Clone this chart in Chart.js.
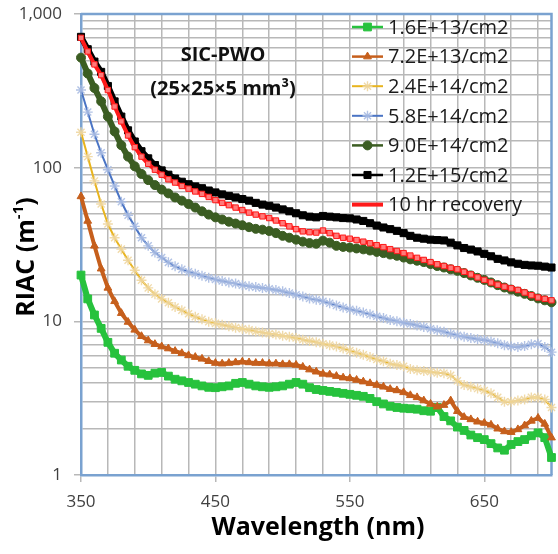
<!DOCTYPE html>
<html><head><meta charset="utf-8">
<script src="https://cdn.jsdelivr.net/npm/chart.js@4.4.1/dist/chart.umd.min.js"></script>
<style>html,body{margin:0;padding:0;background:#fff;}#wrap{width:558px;height:554px;}</style>
</head><body><div id="wrap"><canvas id="c" width="558" height="554"></canvas></div>
<script>
const wavelengths = [350,355,360,365,370,375,380,385,390,395,400,405,410,415,420,425,430,435,440,445,450,455,460,465,470,475,480,485,490,495,500,505,510,515,520,525,530,535,540,545,550,555,560,565,570,575,580,585,590,595,600,605,610,615,620,625,630,635,640,645,650,655,660,665,670,675,680,685,690,695,700];
const xTickValues = [350,370,390,410,430,450,470,490,510,530,550,570,590,610,630,650,670,690];
const xTickLabels = [350,450,550,650];
const seriesNames = ["1.6E+13/cm2","7.2E+13/cm2","2.4E+14/cm2","5.8E+14/cm2","9.0E+14/cm2","1.2E+15/cm2","10 hr recovery"];
const f16e13 = [20,14,11,9,7.3,6.2,5.6,5.1,4.8,4.55,
4.45,4.6,4.65,4.4,4.2,4.1,4.0,3.9,3.8,3.72,
3.7,3.75,3.8,3.95,4.0,3.9,3.8,3.75,3.72,3.75,
3.8,3.9,4.0,3.9,3.7,3.6,3.55,3.5,3.45,3.4,
3.35,3.3,3.25,3.15,3.0,2.9,2.8,2.75,2.72,2.7,
2.68,2.62,2.6,2.75,2.4,2.25,2.05,1.95,1.82,1.75,
1.7,1.6,1.5,1.45,1.58,1.65,1.7,1.8,1.88,1.75,
1.3];
const f72e13 = [65,45,31,22,16.5,13.5,11.3,9.9,8.8,8.0,
7.5,7.1,6.85,6.65,6.4,6.2,6.0,5.85,5.7,5.5,
5.35,5.3,5.35,5.4,5.45,5.4,5.35,5.35,5.3,5.3,
5.25,5.25,5.2,5.05,4.85,4.7,4.55,4.5,4.4,4.3,
4.25,4.15,4.05,3.95,3.85,3.75,3.62,3.55,3.45,3.3,
3.2,3.05,2.9,2.78,2.85,3.05,2.6,2.38,2.3,2.22,
2.18,2.12,2.0,1.92,1.9,1.98,2.1,2.25,2.35,2.15,
1.75];
const f24e14 = [170,118,82,58,43,35,29.5,25,21.5,18.5,
16.5,15,14,13.2,12.4,11.8,11.2,10.7,10.3,9.95,
9.7,9.5,9.3,9.1,8.95,8.8,8.6,8.45,8.3,8.2,
8.05,7.95,7.8,7.6,7.45,7.3,7.15,7.0,6.85,6.65,
6.45,6.25,6.05,5.85,5.65,5.5,5.3,5.2,5.1,4.9,
4.8,4.75,4.7,4.62,4.6,4.45,4.1,3.85,3.75,3.65,
3.55,3.4,3.2,3.0,3.0,3.05,3.1,3.2,3.2,3.1,
2.75];
const f58e14 = [320,230,165,125,97,76,60,49,41.5,35,
31,28,26,24.2,22.8,21.8,21,20.4,19.8,19.2,
18.7,18.3,17.9,17.6,17.2,16.9,16.7,16.5,16.3,16.0,
15.7,15.3,14.9,14.5,14.1,13.8,13.5,13.1,12.7,12.3,
12.0,11.7,11.4,11.1,10.8,10.5,10.2,10.0,9.8,9.6,
9.4,9.2,8.95,8.75,8.55,8.3,8.1,7.95,7.8,7.65,
7.55,7.4,7.2,7.0,6.85,6.8,6.9,7.1,7.15,6.8,
6.3];
const f90e14 = [520,410,330,270,215,172,140,118,102,91,
83,77,72,68,64,61,58,55,52,49.5,
47.5,46,44.5,43.3,42.2,41,40,39.5,38.7,37.5,
36,35,34,33,32.3,32,33.5,32.5,31,30.5,
30.2,29.8,29.4,28.9,28.3,27.8,27.2,26.7,26,25.3,
24.8,24.3,23.6,22.9,22.4,21.8,21.3,20.6,19.9,19.2,
18.6,17.9,17.2,16.6,16.1,15.6,15.1,14.6,14.1,13.7,
13.3];
const f12e15 = [710,590,490,420,340,270,215,175,148,128,
115,104,96,90,85,81,78,75.5,73.5,71,
69,67,65.5,64,62.5,61,59,57.5,56.5,55,
53.5,52,50.5,49,48,47.5,48.5,48,47.5,47,
46.8,46,45,43.5,42,40.8,39.8,38.8,37.5,36,
35,34.5,34,33.8,33.6,32.5,31.2,30,29.3,28.5,
27.5,26.5,25.5,24.9,24.2,23.7,23.3,23.1,23,22.7,
22.4];
const recovery10h = [700,570,470,400,320,250,200,162,136,118,
106,97,90,84,80,76,73,70,67.5,64.5,
61.5,59,57,55,53,51,49.5,48.2,47,45.3,
43.5,41.5,39.8,38.5,38,37.8,39,37.5,36,35,
34.5,33.8,33,32.2,31.3,30.4,29.5,28.7,27.8,26.8,
25.9,25.1,24.3,23.5,22.9,22.3,21.8,21,20.2,19.3,
18.6,17.9,17.3,16.8,16.4,16,15.4,14.8,14.3,14,
13.7];
const allValues = [f16e13,f72e13,f24e14,f58e14,f90e14,f12e15,recovery10h];

const styles = [
  {line:'#27c23d', width:6, point:'rect', r:5.5, pbg:'#27c23d', pbc:'#27c23d', pbw:1, order:7, lw:2.5},
  {line:'#c65f1c', width:4, point:'triangle', r:4.5, pbg:'#c65f1c', pbc:'#c65f1c', pbw:1, order:6, lw:2.5},
  {line:'#e8b41e', width:2, point:'star', r:5, pbg:'rgba(0,0,0,0)', pbc:'rgba(238,214,160,0.9)', pbw:1.4, order:5, lw:2},
  {line:'#4a74c4', width:2, point:'star', r:5, pbg:'rgba(0,0,0,0)', pbc:'rgba(168,187,226,0.9)', pbw:1.4, order:4, lw:2},
  {line:'#3b5d22', width:6, point:'circle', r:4.5, pbg:'#3b5d22', pbc:'#3b5d22', pbw:1, order:3, lw:2.5},
  {line:'#000000', width:6, point:'rect', r:5, pbg:'#000000', pbc:'#000000', pbw:1, order:2, lw:2.5},
  {line:'#ff1a1a', width:4, point:'rect', r:3.8, pbg:'#ff7a7a', pbc:'#ff1a1a', pbw:1, order:1, lw:4}
];

const datasets = allValues.map((vals,i)=>({
  label: seriesNames[i],
  data: wavelengths.map((w,j)=>({x:w, y:vals[j]})),
  borderColor: styles[i].line, borderWidth: styles[i].width,
  pointStyle: styles[i].point, pointRadius: styles[i].r,
  pointBackgroundColor: styles[i].pbg, pointBorderColor: styles[i].pbc, pointBorderWidth: styles[i].pbw,
  tension:0, clip:false, order: styles[i].order, fill:false, borderJoinStyle:'round'
}));

const BLUE = '#7aa2d0';
const GRID = '#b8b8b8';

function drawMarker(ctx, style, x, y, i){
  const s = styles[i];
  ctx.save();
  ctx.fillStyle = s.pbg; ctx.strokeStyle = s.pbc; ctx.lineWidth = s.pbw;
  const r = s.r;
  ctx.beginPath();
  if (style==='rect'){ const h=r*Math.SQRT1_2; ctx.rect(x-h,y-h,2*h,2*h); ctx.fill(); ctx.stroke(); }
  else if (style==='circle'){ ctx.arc(x,y,r,0,Math.PI*2); ctx.fill(); ctx.stroke(); }
  else if (style==='triangle'){ ctx.moveTo(x,y-r); ctx.lineTo(x+r*0.87,y+r*0.5); ctx.lineTo(x-r*0.87,y+r*0.5); ctx.closePath(); ctx.fill(); ctx.stroke(); }
  else if (style==='star'){ for(let k=0;k<4;k++){const a=k*Math.PI/4; ctx.moveTo(x-r*Math.cos(a),y-r*Math.sin(a)); ctx.lineTo(x+r*Math.cos(a),y+r*Math.sin(a));} ctx.stroke(); }
  ctx.restore();
}

const deco = {
  id:'deco',
  beforeDatasetsDraw(chart){
    const {ctx, chartArea:a} = chart;
    ctx.save(); ctx.strokeStyle=BLUE; ctx.lineWidth=2.5;
    ctx.beginPath(); ctx.moveTo(a.left,a.top); ctx.lineTo(a.right,a.top); ctx.lineTo(a.right,a.bottom); ctx.stroke();
    ctx.restore();
  },
  afterDatasetsDraw(chart){
    const ctx = chart.ctx;
    ctx.save();
    const y0 = 27, dy = 29.6;
    for (let i=0;i<seriesNames.length;i++){
      const y = y0 + i*dy;
      ctx.strokeStyle = styles[i].line; ctx.lineWidth = styles[i].lw;
      ctx.beginPath(); ctx.moveTo(352,y); ctx.lineTo(383,y); ctx.stroke();
      if (i!==6) drawMarker(ctx, styles[i].point, 367.5, y, i);
      ctx.fillStyle='#1a1a1a'; ctx.font='20px "Open Sans"'; ctx.textBaseline='middle'; ctx.textAlign='left';
      ctx.fillText(seriesNames[i], 388, y+1);
    }
    ctx.fillStyle='#111'; ctx.textAlign='center'; ctx.font='bold 20px "Open Sans"';
    ctx.fillText('SIC-PWO', 223, 55);
    ctx.fillText('(25×25×5 mm³)', 223, 89);
    ctx.font='bold 25px "Open Sans"'; ctx.fillStyle='#000';
    ctx.fillText('Wavelength (nm)', 318, 528);
    ctx.translate(27, 257); ctx.rotate(-Math.PI/2);
    const main='RIAC (m', sup='-1', end=')';
    ctx.font='bold 25px "Open Sans"'; const w1=ctx.measureText(main).width, w3=ctx.measureText(end).width;
    ctx.font='bold 15px "Open Sans"'; const w2=ctx.measureText(sup).width;
    const tot=w1+w2+w3; let x=-tot/2;
    ctx.textAlign='left';
    ctx.font='bold 25px "Open Sans"'; ctx.fillText(main,x,0); x+=w1;
    ctx.font='bold 15px "Open Sans"'; ctx.fillText(sup,x,-8); x+=w2;
    ctx.font='bold 25px "Open Sans"'; ctx.fillText(end,x,0);
    ctx.restore();
  }
};

const isMajorY = v => { const l=Math.log10(v); return Math.abs(l-Math.round(l))<1e-9; };

new Chart(document.getElementById('c'), {
  type:'line',
  data:{datasets},
  options:{
    responsive:false, animation:false, devicePixelRatio:1,
    layout:{padding:{left:0,right:2,top:14,bottom:0}},
    plugins:{legend:{display:false}, tooltip:{enabled:false}, title:{display:false}},
    scales:{
      x:{type:'linear', min:350, max:700,
        afterFit(s){ s.height=79; s.paddingLeft=0; s.paddingRight=0; },
        afterBuildTicks(s){ s.ticks = xTickValues.map(v=>({value:v})); },
        ticks:{autoSkip:false, maxRotation:0, padding:10, color:'#404040', font:{family:'Open Sans', size:17},
          callback:(v)=> xTickLabels.includes(v) ? String(v) : ''},
        grid:{color:GRID, lineWidth:1.5, tickLength:7, drawTicks:true,
          tickColor:(c)=> (c.tick && xTickLabels.includes(c.tick.value)) ? GRID : 'rgba(0,0,0,0)'},
        border:{color:BLUE, width:2.5}
      },
      y:{type:'logarithmic', min:1, max:1000,
        afterFit(s){ s.width=81; s.paddingTop=0; s.paddingBottom=0; },
        ticks:{autoSkip:false, padding:12, color:'#404040', font:{family:'Open Sans', size:17},
          callback:(v)=> isMajorY(v) ? Number(v).toLocaleString('en-US') : ''},
        grid:{color:GRID, lineWidth:1.5, tickLength:7, drawTicks:true,
          tickColor:(c)=> (c.tick && isMajorY(c.tick.value)) ? GRID : 'rgba(0,0,0,0)'},
        border:{color:BLUE, width:2.5}
      }
    }
  },
  plugins:[deco]
});
</script></body></html>
